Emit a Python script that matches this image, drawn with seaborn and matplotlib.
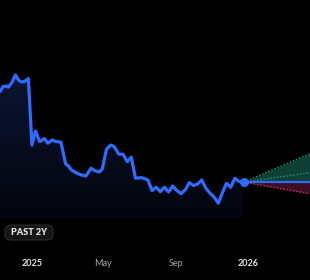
import matplotlib
matplotlib.use("Agg")
import matplotlib.pyplot as plt
import matplotlib.dates as mdates
from matplotlib.patches import FancyBboxPatch
from matplotlib.colors import LinearSegmentedColormap
import numpy as np
import pandas as pd
import seaborn as sns

# ---------------- data ----------------
dates = ["2024-11-08", "2024-11-13", "2024-11-19", "2024-11-22", "2024-11-28",
         "2024-12-04", "2024-12-10", "2024-12-15", "2024-12-20", "2024-12-26",
         "2025-01-01", "2025-01-07", "2025-01-14", "2025-01-22", "2025-01-28",
         "2025-02-04", "2025-02-11", "2025-02-19", "2025-02-27", "2025-03-03",
         "2025-03-09", "2025-03-18", "2025-03-26", "2025-04-02", "2025-04-11",
         "2025-04-17", "2025-04-25", "2025-04-30", "2025-05-07", "2025-05-14",
         "2025-05-20", "2025-05-28", "2025-06-04", "2025-06-11", "2025-06-18",
         "2025-06-25", "2025-07-05", "2025-07-12", "2025-07-16", "2025-07-23",
         "2025-07-30", "2025-08-06", "2025-08-13", "2025-08-20", "2025-08-27",
         "2025-09-03", "2025-09-10", "2025-09-17", "2025-09-24", "2025-10-01",
         "2025-10-08", "2025-10-15", "2025-10-22", "2025-10-29", "2025-11-05",
         "2025-11-12", "2025-11-19", "2025-11-26", "2025-12-03", "2025-12-10",
         "2025-12-17", "2025-12-25"]
prices = [69.2, 71.7, 72.0, 71.4, 73.7, 77.5, 74.7, 74.0, 74.4, 75.7,
          42.5, 49.5, 44.2, 45.7, 43.4, 45.0, 44.2, 43.9, 33.0, 32.2,
          30.0, 28.4, 27.5, 27.0, 30.9, 29.7, 29.0, 30.7, 40.4, 42.5,
          41.7, 37.9, 37.9, 34.2, 36.4, 25.9, 26.2, 25.5, 25.0, 19.7,
          21.4, 19.2, 21.4, 19.0, 22.0, 19.7, 18.2, 20.0, 23.7, 22.2,
          23.0, 25.0, 20.9, 18.4, 16.4, 13.4, 18.7, 23.4, 21.4, 25.9,
          24.2, 23.9]

forecast_dates = ["2025-12-25", "2026-04-16"]
forecast_high = [23.9, 38.2]
forecast_mid = [23.9, 28.7]
forecast_base = [23.9, 23.9]
forecast_low = [23.9, 18.2]

tick_dates = ["2025-01-01", "2025-05-01", "2025-09-01", "2026-01-01"]
tick_labels = ["2025", "May", "Sep", "2026"]
tick_bold = [True, False, False, True]

button_text = "PAST 2Y"

# ---------------- figure ----------------
sns.set_style("dark")
plt.rcParams["font.family"] = ["Lato", "DejaVu Sans"]

df = pd.DataFrame({"date": pd.to_datetime(dates), "price": prices})
fdates = pd.to_datetime(forecast_dates)

fig = plt.figure(figsize=(3.1, 2.8), dpi=100, facecolor="black")
ax = fig.add_axes([0, 0, 1, 1])
ax.set_facecolor("black")
for s in ax.spines.values():
    s.set_visible(False)
ax.grid(False)

x0 = pd.Timestamp("2024-11-08")
x1 = pd.Timestamp("2026-04-16")

base_y = 6.0
# gradient fill under line
xn = mdates.date2num(df["date"])
poly = ax.fill_between(df["date"], df["price"], base_y, color="none", lw=0)
grad = np.linspace(0, 1, 256).reshape(-1, 1)
cmap = LinearSegmentedColormap.from_list("g", ["#03050c", "#0c1632"])
im = ax.imshow(grad, aspect="auto", cmap=cmap, origin="lower",
               extent=[xn.min(), xn.max(), base_y, 78], zorder=1)
im.set_clip_path(poly.get_paths()[0], transform=ax.transData)

# forecast fills
ax.fill_between(fdates, forecast_base, forecast_high, color="#0f4035", lw=0, zorder=1)
ax.fill_between(fdates, forecast_low, forecast_base, color="#3c0f24", lw=0, zorder=1)
ax.plot(fdates, forecast_high, color="#1f8f6e", lw=1.0, ls=(0, (1.2, 1.2)), zorder=2)
ax.plot(fdates, forecast_mid, color="#1f8f6e", lw=1.0, ls=(0, (1.2, 1.2)), zorder=2)
ax.plot(fdates, forecast_low, color="#c2305e", lw=1.0, ls=(0, (1.2, 1.2)), zorder=2)
ax.plot(fdates, forecast_base, color="#2f6bff", lw=1.6, zorder=3)

# main line
sns.lineplot(data=df, x="date", y="price", ax=ax, color="#2f6bff", lw=2.3,
             zorder=4, legend=False)
ax.scatter(df["date"].iloc[-1], df["price"].iloc[-1], s=30, color="#2f6bff", zorder=5)
ax.set_xlabel("")
ax.set_ylabel("")
ax.set_xlim(x0, x1)
ax.set_ylim(-25, 115)
ax.set_xticks([])
ax.set_yticks([])

# x labels
trans = ax.get_xaxis_transform()
for d, lab, b in zip(tick_dates, tick_labels, tick_bold):
    ax.text(pd.Timestamp(d), 1 - 263 / 280, lab, transform=trans,
            ha="center", va="center", fontsize=6.5,
            color="#e6e6e6" if b else "#a8a8a8",
            fontweight="bold" if b else "normal")

# PAST 2Y button
btn = FancyBboxPatch((5 / 310, 1 - 240 / 280), 48 / 310, 15 / 280,
                     boxstyle="round,pad=0,rounding_size=0.02",
                     transform=fig.transFigure, facecolor="#161616",
                     edgecolor="#2c2c2c", lw=0.8, zorder=6)
fig.patches.append(btn)
fig.text(29 / 310, 1 - 232.5 / 280, button_text, ha="center", va="center",
         fontsize=6.5, fontweight="heavy", color="#e0e0e0", zorder=7)

fig.savefig("out.png", dpi=100, facecolor="black")
